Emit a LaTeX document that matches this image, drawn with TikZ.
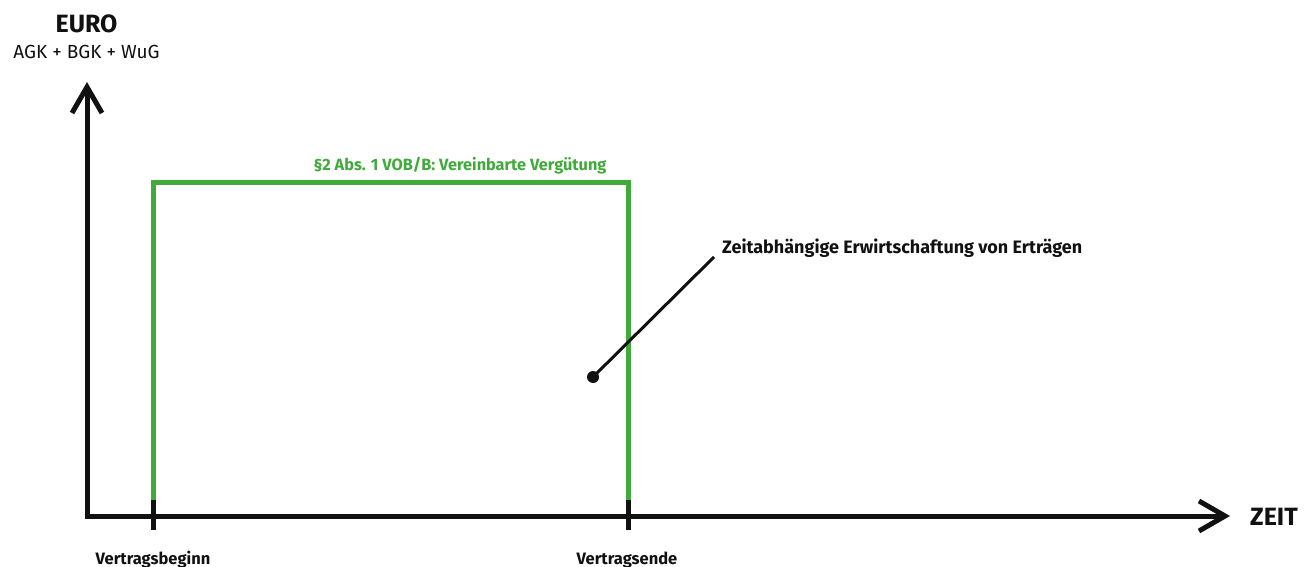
\documentclass[tikz,border=0pt]{standalone}
\usepackage{fontspec}
\setmainfont{Fira Sans}
\usetikzlibrary{arrows.meta}
\definecolor{vgreen}{RGB}{64,170,58}
\definecolor{ink}{RGB}{17,17,17}
\tikzset{
  axis/.style={line width=5pt, ink, line join=miter, -{Straight Barb[length=26pt,width=30pt,line width=5pt]}},
  tickmark/.style={line width=5pt, ink},
  frame/.style={line width=5pt, vgreen},
  leader/.style={line width=3pt, ink},
  lbl/.style={inner sep=0pt, font=\bfseries\fontsize{16.5}{19}\selectfont, text=ink},
}
\begin{document}
\begin{tikzpicture}[x={(1pt,0)}, y={(0,-1pt)}]
\useasboundingbox (0,0) rectangle (1309,567);
\coordinate (O) at (87,516);
\coordinate (ytop) at (87,82);
\coordinate (xend) at (1230,516);
\coordinate (b) at (153,516);
\coordinate (e) at (628,516);
\coordinate (bt) at (153,182);
\coordinate (et) at (628,182);
% green frame
\draw[frame, line cap=butt, line join=miter] ([yshift=16pt]b) -- (bt) -- (et) -- ([yshift=16pt]e);
% axes
\draw[axis] ([yshift=2.5pt]O) -- (ytop);
\draw[axis] ([xshift=-2.5pt]O) -- (xend);
% ticks
\draw[tickmark] ([yshift=16pt]b) -- ([yshift=-14pt]b);
\draw[tickmark] ([yshift=16pt]e) -- ([yshift=-14pt]e);
% labels
\node[lbl, anchor=base, font=\bfseries\fontsize{25}{28}\selectfont] (euro) at (86.5,33) {EURO};
\node[lbl, anchor=base, font=\fontsize{19}{22}\selectfont] (agk) at (86.5,59) {AGK + BGK + WuG};
\node[lbl, anchor=base west, font=\bfseries\fontsize{25}{28}\selectfont] (zeit) at (1250,525) {ZEIT};
\node[lbl, anchor=base, text=vgreen, font=\bfseries\fontsize{16.3}{19}\selectfont] (verg) at (460,170) {§2 Abs. 1 VOB/B: Vereinbarte Vergütung};
\node[lbl, anchor=base west, font=\bfseries\fontsize{18}{21}\selectfont] (zeitab) at (722,253) {Zeitabhängige Erwirtschaftung von Erträgen};
\node[lbl, anchor=base] (vb) at (153,564) {Vertragsbeginn};
\node[lbl, anchor=base] (ve) at (627,564) {Vertragsende};
% leader
\coordinate (lt) at (714,257);
\node[circle, fill=ink, inner sep=0pt, minimum size=12pt] (dot) at (593,377) {};
\draw[leader] (dot.center) -- (lt);
\end{tikzpicture}
\end{document}
